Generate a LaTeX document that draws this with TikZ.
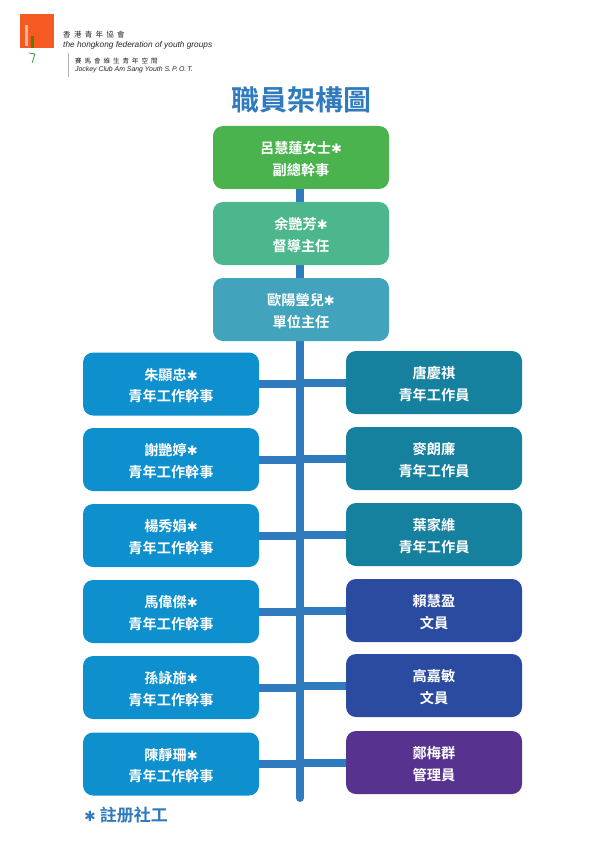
\documentclass[tikz,border=0pt]{standalone}
\usepackage{fontspec}
\setmainfont{Liberation Sans}
\newfontfamily\cjk{Noto Sans CJK TC}[BoldFont={* Bold}]
\newfontfamily\sym{DejaVu Sans}
\definecolor{trunk}{HTML}{2F7BBE}
\definecolor{cA}{HTML}{4BB34D}
\definecolor{cB}{HTML}{4CB68C}
\definecolor{cC}{HTML}{42A3BC}
\definecolor{cL}{HTML}{0E90CF}
\definecolor{cR}{HTML}{16809F}
\definecolor{cD}{HTML}{2B4BA0}
\definecolor{cP}{HTML}{57328E}
\definecolor{logoO}{HTML}{F45A22}
\tikzset{
 staff/.style={rounded corners=10pt,minimum width=176pt,minimum height=63pt,inner sep=0pt,align=center,text=white,font=\cjk\bfseries\fontsize{14.2}{21.5}\selectfont},
 link/.style={draw=trunk,line width=8pt},
 logotext/.style={anchor=west,inner sep=0pt,text=black!85},
}
\newcommand{\st}{{\sym\fontsize{13}{10}\selectfont ✱}}
\newcommand{\up}{\rule{0pt}{15.5pt}}
\begin{document}
\begin{tikzpicture}[x=1pt,y=-1pt]
\useasboundingbox (0,0) rectangle (596,842);
\fill[white] (0,0) rectangle (596,842);
% logo
\fill[logoO] (20,14) rectangle (54,48);
\fill[white,opacity=.55] (25,25) rectangle (28,46);
\fill[green!55!black,opacity=.6] (31,36) rectangle (34,48);
\draw[green!50!black,line width=.6pt] (29,53) -- (35,54) -- (32,63);
\node[logotext,font=\cjk\fontsize{7.5}{8}\selectfont] (h1) at (63,35) {香\hspace{3.3pt}港\hspace{3.3pt}青\hspace{3.3pt}年\hspace{3.3pt}協\hspace{3.3pt}會};
\node[logotext,font=\itshape\fontsize{8.3}{8}\selectfont] (h2) at (63,45.5) {the hongkong federation of youth groups};
\node[logotext,font=\cjk\fontsize{6.5}{8}\selectfont] (h3) at (75,61) {賽\hspace{3pt}馬\hspace{3pt}會\hspace{3pt}維\hspace{3pt}生\hspace{3pt}青\hspace{3pt}年\hspace{3pt}空\hspace{3pt}間};
\node[logotext,font=\itshape\fontsize{6.9}{8}\selectfont] (h4) at (75,69.5) {Jockey Club Am Sang Youth S.\,P.\,O.\,T.};
\draw[gray!60,line width=.6pt] (68.5,53) -- (68.5,77);
\node[font=\cjk\bfseries\fontsize{28}{30}\selectfont,text=trunk,inner sep=0pt] (title) at (301.5,100) {職員架構圖};
% connectors first, boxes over them
\coordinate (top) at (300,170);
\coordinate (end) at (300,798);
\draw[link,line cap=round] (top) -- (end);
\node[staff,fill=cA] (a) at (301,157.5) {\up 呂慧蓮女士\st\\副總幹事};
\node[staff,fill=cB] (b) at (301,233.5) {\up 余艷芳\st\\督導主任};
\node[staff,fill=cC] (c) at (301,309.5) {\up 歐陽瑩兒\st\\單位主任};
\foreach \n/\y/\t in {l1/384/朱顯忠,l2/459.5/謝艷婷,l3/535.5/楊秀娟,l4/611.5/馬偉傑,l5/687.5/孫詠施,l6/764/陳靜珊}{
 \node[staff,fill=cL] (\n) at (171,\y) {\up\t\st\\青年工作幹事};
 \draw[link] (\n.east) -- (\n.east -| top);
}
\foreach \n/\y/\t/\r/\c in {r1/382.5/唐慶祺/青年工作員/cR,r2/458.5/麥朗廉/青年工作員/cR,r3/534.5/葉家維/青年工作員/cR,r4/610.5/賴慧盈/文員/cD,r5/685.5/高嘉敏/文員/cD,r6/762.5/鄭梅群/管理員/cP}{
 \node[staff,fill=\c] (\n) at (434,\y) {\up\t\\\r};
 \draw[link] (\n.west) -- (\n.west -| top);
}
\node[font=\cjk\bfseries\fontsize{17}{18}\selectfont,text=trunk,anchor=west,inner sep=0pt] (note) at (84,815) {{\sym\fontsize{14}{14}\selectfont ✱}\hspace{4pt}註册社工};
\end{tikzpicture}
\end{document}
